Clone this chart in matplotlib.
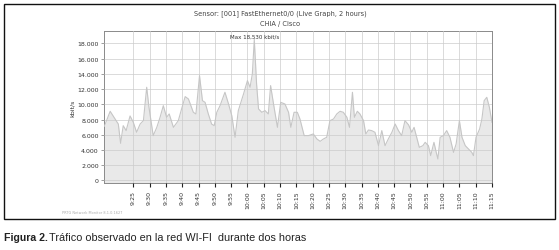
import matplotlib
matplotlib.use("Agg")
import matplotlib.pyplot as plt
from matplotlib.patches import Rectangle

# minutes after 9:00 and traffic in kbit/s
minutes = [16.1, 17.9, 19.4, 20.4, 21.1, 21.9, 22.8, 24.0, 25.0, 26.0,
           27.1, 28.1, 29.1, 29.8, 31.1, 32.2, 33.2, 34.2, 35.2, 36.0,
           37.3, 38.8, 39.8, 40.9, 41.9, 43.4, 44.2, 45.3, 46.2, 47.0,
           48.0, 49.0, 49.8, 50.6, 51.6, 53.1, 54.2, 55.2, 56.2, 57.2,
           58.8, 60.0, 60.8, 61.5, 62.1, 62.8, 63.4, 64.4, 65.4, 66.4,
           67.1, 68.0, 69.2, 70.2, 71.5, 72.6, 73.3, 74.3, 75.3, 76.1,
           77.4, 78.7, 80.2, 81.3, 82.3, 83.3, 84.3, 85.3, 86.4, 87.4,
           88.4, 89.4, 90.5, 91.3, 92.2, 92.8, 93.7, 94.5, 95.6, 96.3,
           97.1, 98.1, 99.1, 100.2, 101.2, 102.2, 103.2, 104.3, 105.3, 106.3,
           107.3, 108.3, 109.4, 110.4, 111.1, 111.9, 112.7, 113.8, 114.5, 115.5,
           116.2, 117.2, 117.9, 118.4, 119.1, 120.1, 121.1, 122.1, 123.2, 124.0,
           125.0, 125.8, 126.8, 127.8, 128.8, 129.3, 130.1, 131.2, 131.9, 132.6,
           133.4, 134.2, 135.0]
traffic = [7100, 9080, 8070, 7400, 4870, 7190, 6540, 8470, 7630, 6320,
           7410, 7850, 12240, 9600, 5880, 6970, 8290, 9820, 8290, 8730,
           6970, 7850, 9390, 11010, 10700, 8950, 8730, 13770, 10480, 10260,
           8730, 7410, 7190, 8950, 9820, 11580, 10040, 8510, 5660, 9170,
           11360, 13110, 12240, 13990, 18530, 12680, 9390, 8950, 9170, 8730,
           12460, 10040, 6970, 10260, 10040, 8950, 6970, 8950, 8950, 8070,
           5880, 5880, 6100, 5440, 5130, 5440, 5660, 7850, 8070, 8730,
           9080, 8950, 8290, 6970, 11580, 8290, 9080, 8730, 7850, 6100,
           6620, 6540, 6320, 4560, 6540, 4560, 5440, 6320, 7410, 6540,
           5880, 7850, 7300, 6320, 6970, 5660, 4340, 4560, 5000, 4560,
           3250, 5000, 3680, 2810, 5660, 5880, 6540, 5660, 3680, 4780,
           7850, 5660, 4560, 4120, 3680, 3250, 5660, 6750, 8070, 10480,
           10920, 9600, 7630]

tick_minutes = list(range(25, 136, 5))
tick_labels = ["%d:%02d" % (9 + m // 60, m % 60) for m in tick_minutes]
y_ticks = list(range(0, 18001, 2000))
y_labels = ["{:,}".format(v).replace(",", ".") for v in y_ticks]
peak_label = "Max 18,530 kbit/s"

plt.rcParams['font.family'] = ['DejaVu Sans']

W, H = 559, 251
fig = plt.figure(figsize=(W / 100, H / 100), dpi=100)
ax = fig.add_axes([104.3 / W, (H - 184) / H, (492 - 104.3) / W, (184 - 32.3) / H])

ybase = -350
ax.fill_between(minutes, traffic, ybase, color='#e9e9e9', lw=0, zorder=2)
ax.plot(minutes, traffic, color='#c6c6c6', lw=0.8, zorder=3)

ax.set_xlim(16.1, 135)
ax.set_ylim(ybase, 19600)
ax.set_xticks(tick_minutes)
ax.set_xticklabels(tick_labels, rotation=90, fontsize=4.5, color='#333333')
ax.set_yticks(y_ticks)
ax.set_yticklabels(y_labels, fontsize=4.5, color='#333333')
ax.tick_params(axis='x', length=3, width=0.8, color='#222222', pad=2)
ax.tick_params(axis='y', length=2.5, width=0.5, color='#777777', pad=1.5)
ax.grid(True, color='#cccccc', lw=0.5, zorder=1)
ax.set_axisbelow(False)
for s in ax.spines.values():
    s.set_color('#8a8a8a')
    s.set_linewidth(0.7)
ax.set_ylabel('kbit/s', fontsize=4.5, color='#333333', labelpad=2)

# peak annotation
i_max = traffic.index(max(traffic))
ax.text(minutes[i_max], 19300, peak_label, ha='center', va='top',
        fontsize=4, color='#333333', zorder=5)

fig.text(280 / W, 1 - 14 / H, 'Sensor: [001] FastEthernet0/0 (Live Graph, 2 hours)',
         ha='center', va='center', fontsize=4.8, color='#444444')
fig.text(280 / W, 1 - 24 / H, 'CHIA / Cisco', ha='center', va='center',
         fontsize=4.8, color='#444444')
fig.text(62 / W, 1 - 213 / H, 'PRTG Network Monitor 8.1.0.1627', ha='left',
         va='center', fontsize=2.5, color='#aaaaaa')

fig.patches.append(Rectangle((4 / W, 1 - 220 / H), 551 / W, 215 / H,
                             transform=fig.transFigure, fill=False,
                             ec='#111111', lw=1.0))

fig.text(4 / W, 1 - 238 / H, 'Figura 2.', ha='left', va='center', fontsize=7.6,
         fontweight='bold', family='Liberation Sans', color='#222222')
fig.text(49 / W, 1 - 238 / H, 'Tráfico observado en la red WI-FI  durante dos horas',
         ha='left', va='center', fontsize=7.8, family='Liberation Sans',
         color='#222222')

fig.savefig('out.png', dpi=100)
